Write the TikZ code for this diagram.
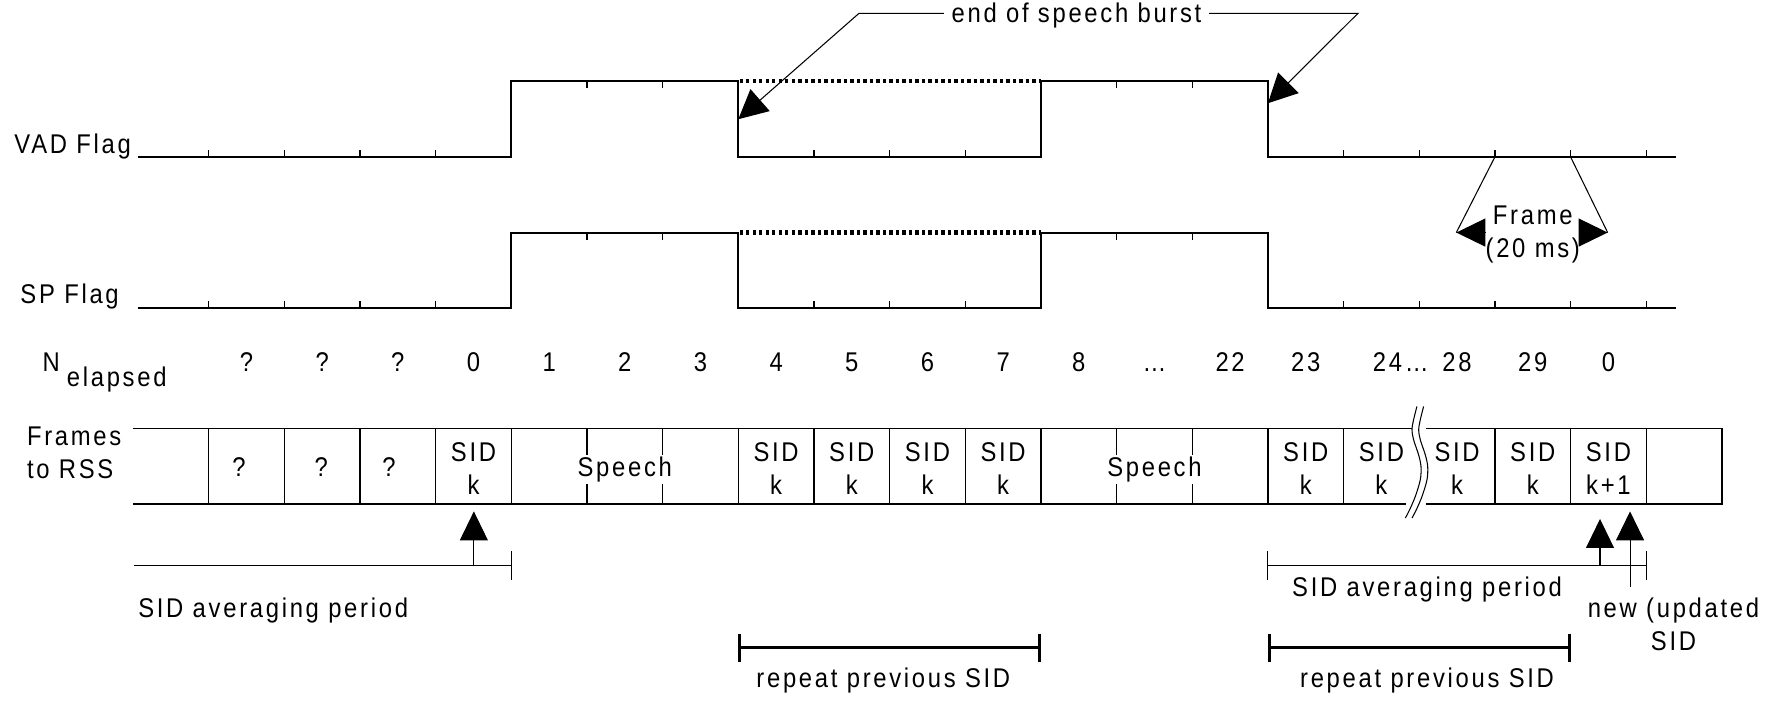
\documentclass[tikz,border=0pt]{standalone}
\usepackage{fontspec}
\setmainfont{Liberation Sans}[FakeStretch=0.88, LetterSpace=10]
\usetikzlibrary{arrows.meta}

\tikzset{
  every node/.style={font=\fontsize{7.7pt}{9.4pt}\selectfont},
  wave/.style={line width=0.55pt},
  tickmark/.style={line width=0.4pt},
  dotrow/.style={line width=1.2pt, dash pattern=on 0.9pt off 0.95pt},
  cellbox/.style={line width=0.35pt},
  thinline/.style={line width=0.3pt},
  bracket/.style={line width=0.75pt, {Bar[width=0.28cm]}-{Bar[width=0.28cm]}},
  bigarrow/.style={-{Triangle[length=0.29cm,width=0.29cm]}},
  uparrow/.style={-{Triangle[length=0.29cm,width=0.28cm]}},
  lbl/.style={inner sep=0pt, anchor=base},
  sidcell/.style={align=center, inner sep=0pt},
  speech/.style={fill=white, inner xsep=1pt, inner ysep=0.5pt},
}

\begin{document}
\begin{tikzpicture}[x=0.7566cm, y=-0.01cm]
    \useasboundingbox (-6.758,0) rectangle (16.715,707);

    % VAD flag
    \node[lbl] (vad) at (-5.798,153.3) {VAD Flag};
    \draw[wave] (-4.94,157) -- (0,157) -- (0,81) -- (3,81) -- (3,157) -- (7,157)
        -- (7,81) -- (10,81) -- (10,157) -- (15.39,157);
    \draw[dotrow] (3.02,81) -- (7,81);
    \foreach \i in {-4,-3,-2,-1,4,5,6,11,12,13,14,15}
        \draw[tickmark] (\i,157) -- ++(0,-7);
    \foreach \i in {1,2,8,9}
        \draw[tickmark] (\i,81) -- ++(0,7);

    % SP flag
    \node[lbl] (spf) at (-5.838,303.3) {SP Flag};
    \draw[wave] (-4.94,308.3) -- (0,308.3) -- (0,232.7) -- (3,232.7) -- (3,308.3) -- (7,308.3)
        -- (7,232.7) -- (10,232.7) -- (10,308.3) -- (15.39,308.3);
    \draw[dotrow] (3.02,232.7) -- (7,232.7);
    \foreach \i in {-4,-3,-2,-1,4,5,6,11,12,13,14,15}
        \draw[tickmark] (\i,308.3) -- ++(0,-7);
    \foreach \i in {1,2,8,9}
        \draw[tickmark] (\i,232.7) -- ++(0,7);

    % end of speech burst
    \node[inner xsep=2pt] (eosb) at (7.47,16) {end of speech burst};
    \coordinate (eL) at (4.596,13.3);
    \coordinate (eR) at (11.19,13.3);
    \coordinate (eA) at (3,119.3);
    \coordinate (eB) at (10,103.3);
    \draw[thinline, bigarrow] (eosb.west |- eL) -- (eL) -- (eA);
    \draw[thinline, bigarrow] (eosb.east |- eR) -- (eR) -- (eB);

    % frame length
    \node[align=center, inner xsep=0pt] (frm) at (13.5,235) {Frame\\(20 ms)};
    \coordinate (fL) at (12.49,232.7);
    \coordinate (fR) at (14.49,232.7);
    \draw[thinline] (13,157) -- (fL);
    \draw[thinline] (14,157) -- (fR);
    \draw[thinline, uparrow] (frm.west |- fL) -- (fL);
    \draw[thinline, uparrow] (frm.east |- fR) -- (fR);

    % N elapsed
    \node[lbl] (nn) at (-6.08,371.7) {N};
    \node[lbl] (nel) at (-5.215,386.7) {elapsed};
    \foreach \x/\t [count=\k] in {-3.5/?, -2.5/?, -1.5/?, -0.5/0, 0.5/1, 1.5/2, 2.5/3, 3.5/4,
        4.5/5, 5.5/6, 6.5/7, 7.5/8, 8.5/…, 9.5/22, 10.5/23, 12.5/28, 13.5/29, 14.5/0}
        \node[lbl] (ne\k) at (\x,371.7) {\t};
    \node[lbl] (ne24) at (11.755,371.7) {24…};

    % frames to RSS
    \node[align=left] (frs) at (-5.777,453.5) {Frames\\to RSS};
    \draw[cellbox] (-5,429) -- (11.90,429);
    \draw[cellbox] (-5,504.3) -- (11.83,504.3);
    \draw[cellbox] (12.09,429) -- (16,429) -- (16,504.3) -- (12.09,504.3);
    \foreach \i in {-4,...,11,13,14,15}
        \draw[cellbox] (\i,429) -- (\i,504.3);
    \draw[thinline] plot[smooth] coordinates {(11.969,406.7) (11.925,420) (11.904,430) (11.925,440)
        (11.991,455) (12.023,466.7) (12.014,480) (11.948,496.7) (11.873,510) (11.816,518.3)};
    \draw[thinline, xshift=0.067cm] plot[smooth] coordinates {(11.969,406.7) (11.925,420) (11.904,430)
        (11.925,440) (11.991,455) (12.023,466.7) (12.014,480) (11.948,496.7) (11.873,510) (11.816,518.3)};

    \node[lbl] (q1) at (-3.599,476.7) {?};
    \node[lbl] (q2) at (-2.513,476.7) {?};
    \node[lbl] (q3) at (-1.616,476.7) {?};
    \foreach \x [count=\k] in {-0.5,3.5,4.5,5.5,6.5,10.5,11.5,12.5,13.5}
        \node[sidcell] (sid\k) at (\x,469) {SID\\k};
    \node[sidcell] (sidnew) at (14.5,469) {SID\\k+1};
    \node[speech] (sp1) at (1.5,470) {Speech};
    \node[speech] (sp2) at (8.5,470) {Speech};

    % SID averaging periods
    \coordinate (av1s) at (-4.99,566);
    \coordinate (av1e) at (0,566);
    \draw[thinline] (av1s) -- (av1e);
    \draw[thinline] (0,551.7) -- (0,580);
    \draw[thinline, uparrow] (-0.495,566) -- (-0.495,511.7);
    \node[lbl, anchor=base west] (av1) at (-4.939,618) {SID averaging period};

    \coordinate (av2s) at (10,566);
    \coordinate (av2e) at (15,566);
    \draw[thinline] (av2s) -- (av2e);
    \draw[thinline] (10,551.7) -- (10,580);
    \draw[thinline] (15,551.7) -- (15,580);
    \draw[thinline, uparrow] (14.389,566) -- (14.389,519.3);
    \draw[thinline, uparrow] (14.786,587.3) -- (14.786,511.7);
    \node[lbl] (av2) at (12.103,597) {SID averaging period};
    \node[align=center, inner sep=0pt] (upd) at (15.36,624.5) {new (updated\\SID};

    % repeat previous SID
    \draw[bracket] (3,648) -- (7,648);
    \node[lbl] (rp1) at (4.917,688) {repeat previous SID};
    \draw[bracket] (10,648) -- (14,648);
    \node[lbl] (rp2) at (12.103,688) {repeat previous SID};

\end{tikzpicture}
\end{document}
